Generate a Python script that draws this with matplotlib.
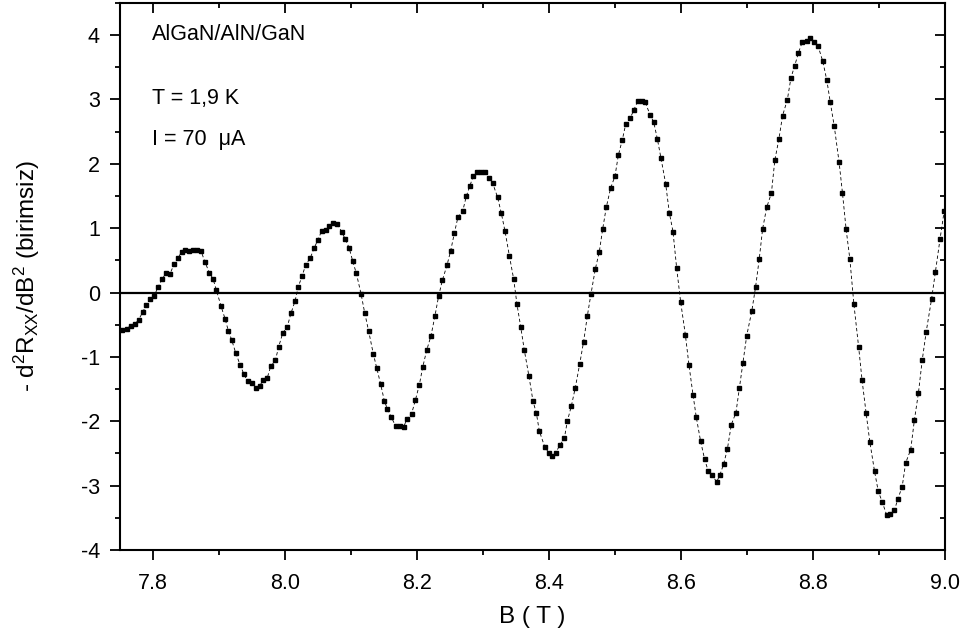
import matplotlib
matplotlib.use("Agg")
import matplotlib.pyplot as plt
from matplotlib.ticker import MultipleLocator

plt.rcParams['font.family'] = ['Liberation Sans', 'DejaVu Sans']
plt.rcParams['mathtext.default'] = 'regular'
plt.rcParams['axes.unicode_minus'] = False

B = [7.7525, 7.7601, 7.7662, 7.7727, 7.7783, 7.7843, 7.7899, 7.7955, 7.8020, 7.8076,
     7.8136, 7.8197, 7.8258, 7.8318, 7.8374, 7.8434, 7.8485, 7.8551, 7.8611, 7.8672,
     7.8727, 7.8788, 7.8854, 7.8909, 7.8960, 7.9030, 7.9091, 7.9141, 7.9192, 7.9253,
     7.9323, 7.9379, 7.9434, 7.9495, 7.9556, 7.9616, 7.9672, 7.9732, 7.9783, 7.9854,
     7.9904, 7.9965, 8.0035, 8.0091, 8.0152, 8.0202, 8.0258, 8.0313, 8.0384, 8.0439,
     8.0500, 8.0556, 8.0621, 8.0662,
     8.0732, 8.0793, 8.0859, 8.0914, 8.0970, 8.1025, 8.1081, 8.1152, 8.1207, 8.1268,
     8.1338, 8.1389, 8.1449, 8.1505, 8.1551, 8.1611, 8.1677, 8.1737, 8.1798, 8.1848,
     8.1919, 8.1975, 8.2035, 8.2086, 8.2146, 8.2212, 8.2273, 8.2328, 8.2384, 8.2455,
     8.2510, 8.2566, 8.2621, 8.2692, 8.2747, 8.2798, 8.2854, 8.2914, 8.2975, 8.3035,
     8.3096, 8.3146, 8.3222, 8.3278, 8.3333, 8.3399, 8.3465, 8.3515, 8.3571, 8.3626,
     8.3697, 8.3758, 8.3808, 8.3854,
     8.3939, 8.4000, 8.4045, 8.4101, 8.4162, 8.4232, 8.4278, 8.4338, 8.4399, 8.4465,
     8.4525, 8.4581, 8.4636, 8.4702, 8.4763, 8.4813, 8.4869, 8.4934, 8.5000, 8.5051,
     8.5111, 8.5162, 8.5232, 8.5288, 8.5343, 8.5404, 8.5460, 8.5530, 8.5586, 8.5641,
     8.5697, 8.5768, 8.5823, 8.5879, 8.5934, 8.5995, 8.6066, 8.6121, 8.6182, 8.6232,
     8.6298, 8.6359, 8.6414, 8.6470, 8.6540, 8.6591, 8.6646, 8.6702, 8.6763, 8.6833,
     8.6884, 8.6939,
     8.6996, 8.7073, 8.7130, 8.7186, 8.7237, 8.7299, 8.7370, 8.7422, 8.7483, 8.7539,
     8.7611, 8.7667, 8.7724, 8.7780, 8.7836, 8.7903, 8.7959, 8.8021, 8.8077, 8.8149,
     8.8210, 8.8262, 8.8323, 8.8395, 8.8446, 8.8502, 8.8559, 8.8620, 8.8692, 8.8743,
     8.8805, 8.8861, 8.8933, 8.8989, 8.9050, 8.9117, 8.9163, 8.9235, 8.9286, 8.9352,
     8.9404, 8.9481, 8.9537, 8.9598, 8.9655, 8.9716, 8.9798, 8.9855, 8.9926, 8.9988]

d2R = [-0.586, -0.565, -0.513, -0.488, -0.421, -0.307, -0.193, -0.101, -0.049, 0.085,
       0.204, 0.302, 0.292, 0.436, 0.529, 0.632, 0.668, 0.642, 0.668, 0.658,
       0.648, 0.472, 0.307, 0.214, 0.039, -0.209, -0.405, -0.591, -0.735, -0.937,
       -1.133, -1.272, -1.380, -1.406, -1.478, -1.453, -1.354, -1.324, -1.148, -1.055,
       -0.844, -0.632, -0.529, -0.322, -0.132, 0.090, 0.255, 0.426, 0.539, 0.684,
       0.823, 0.957, 0.978, 1.029,
       1.081, 1.060, 0.942, 0.828, 0.699, 0.493, 0.297, -0.018, -0.312, -0.601,
       -0.952, -1.169, -1.422, -1.680, -1.809, -1.938, -2.077, -2.077, -2.092, -1.958,
       -1.881, -1.674, -1.437, -1.164, -0.900, -0.673, -0.359, -0.054, 0.188, 0.426,
       0.648, 0.921, 1.174, 1.262, 1.494, 1.649, 1.809, 1.870, 1.870, 1.876,
       1.783, 1.700, 1.478, 1.231, 0.957, 0.575, 0.209, -0.183, -0.529, -0.895,
       -1.303, -1.690, -1.870, -2.154,
       -2.407, -2.490, -2.546, -2.490, -2.376, -2.268, -1.999, -1.767, -1.478, -1.112,
       -0.761, -0.364, -0.023, 0.364, 0.637, 0.983, 1.329, 1.623, 1.809, 2.134,
       2.371, 2.614, 2.712, 2.841, 2.970, 2.970, 2.954, 2.763, 2.650, 2.392,
       2.087, 1.690, 1.241, 0.947, 0.384, -0.147, -0.653, -1.127, -1.587, -1.938,
       -2.314, -2.593, -2.779, -2.830, -2.944, -2.830, -2.665, -2.438, -2.051, -1.865,
       -1.489, -1.096,
       -0.670, -0.288, 0.084, 0.523, 0.989, 1.324, 1.544, 2.056, 2.381, 2.747,
       2.993, 3.339, 3.527, 3.726, 3.888, 3.914, 3.951, 3.898, 3.830, 3.590,
       3.297, 2.957, 2.580, 2.030, 1.554, 0.984, 0.518, -0.183, -0.848, -1.355,
       -1.873, -2.318, -2.779, -3.087, -3.255, -3.459, -3.438, -3.380, -3.208, -3.014,
       -2.648, -2.439, -1.978, -1.559, -1.052, -0.607, -0.094, 0.324, 0.837, 1.266]

x_ticks = [7.8, 8.0, 8.2, 8.4, 8.6, 8.8, 9.0]
y_ticks = [-4, -3, -2, -1, 0, 1, 2, 3, 4]
annotations = ["AlGaN/AlN/GaN", "T = 1,9 K", "I = 70  μA"]

fig = plt.figure(figsize=(9.74, 6.41), dpi=100)
ax = fig.add_axes([0.1232, 0.142, 0.847, 0.8535])

ax.axhline(0, color='black', lw=1.6, zorder=1)
ax.plot(B, d2R, color='black', lw=0.6, ls=(0, (4, 3)), marker='s', ms=3.2,
        mfc='black', mec='black', zorder=3)

ax.set_xlim(7.75, 9.0)
ax.set_ylim(-4, 4.5)
ax.set_xticks(x_ticks)
ax.set_xticklabels([f"{v:.1f}" for v in x_ticks])
ax.set_yticks(y_ticks)
ax.set_yticklabels([str(v) for v in y_ticks])
ax.xaxis.set_minor_locator(MultipleLocator(0.1))
ax.yaxis.set_minor_locator(MultipleLocator(0.5))

for s in ax.spines.values():
    s.set_linewidth(1.5)

ax.tick_params(which='major', length=7.5, width=1.3, labelsize=15.5)
ax.tick_params(which='minor', length=3.7, width=1.3)
ax.tick_params(axis='x', which='major', pad=9)
ax.tick_params(axis='y', which='major', pad=7)
ax.tick_params(top=True, right=True, which='both', labeltop=False, labelright=False)
# bottom/left outward, top/right inward
for t in ax.xaxis.get_major_ticks() + ax.xaxis.get_minor_ticks():
    t.tick1line.set_marker(3)
    t.tick2line.set_marker(3)
for t in ax.yaxis.get_major_ticks() + ax.yaxis.get_minor_ticks():
    t.tick1line.set_marker(0)
    t.tick2line.set_marker(0)

ax.set_xlabel("B ( T )", fontsize=17.5)
ax.set_ylabel("- d$^2$R$_{XX}$/dB$^2$ (birimsiz)", fontsize=17.5)
ax.xaxis.set_label_coords(0.5, -0.102)
ax.yaxis.set_label_coords(-0.0945, 0.5)

ax.text(0.039, 0.9415, annotations[0], transform=ax.transAxes, fontsize=15.5,
        va='center', ha='left')
ax.text(0.039, 0.826, annotations[1], transform=ax.transAxes, fontsize=15.5,
        va='center', ha='left')
ax.text(0.039, 0.7495, annotations[2], transform=ax.transAxes, fontsize=15.5,
        va='center', ha='left')

fig.savefig("out.png", dpi=100)
